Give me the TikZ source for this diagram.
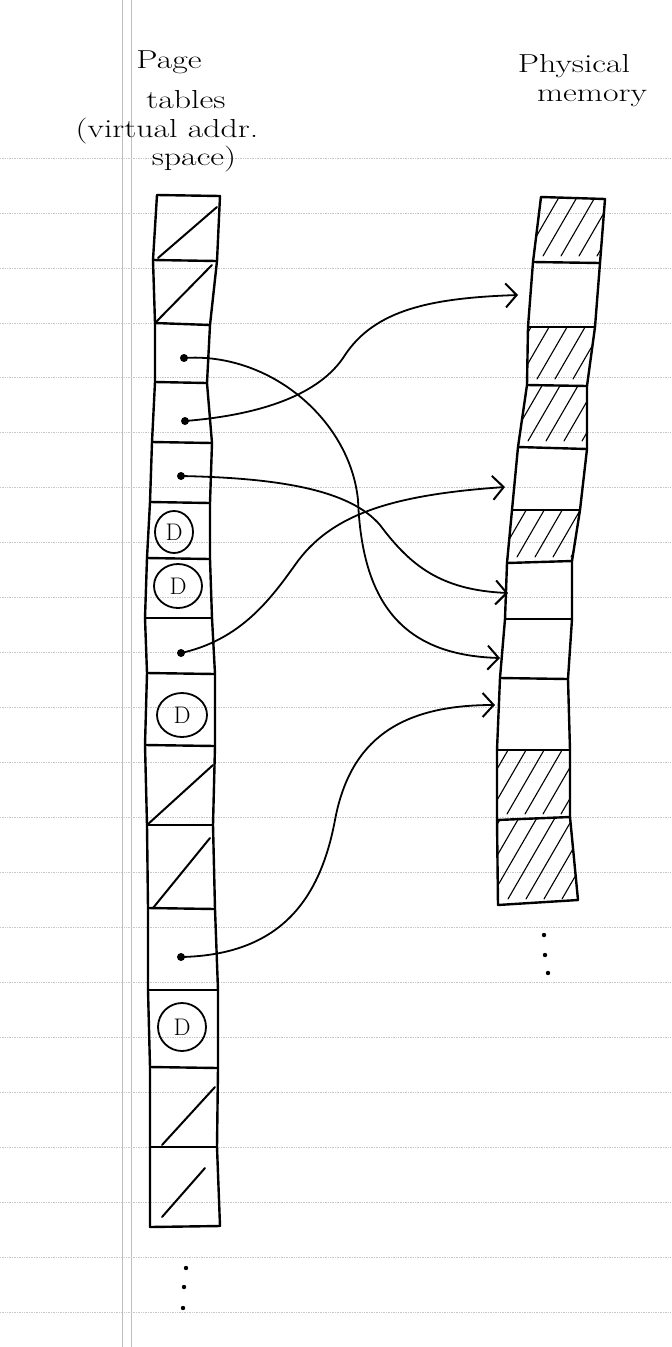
\documentclass[tikz,border=0pt]{standalone}
\usetikzlibrary{arrows.meta}
\tikzset{
  x=1pt, y=-1pt,
  col/.style={line width=2.4pt, line cap=round, line join=round},
  slash/.style={line width=2pt, line cap=round},
  hatch/.style={line width=1.1pt, line cap=round},
  link/.style={line width=1.8pt, line cap=round, -{Straight Barb[length=11pt,width=24pt,line width=2pt]}},
  ruleh/.style={black!22, line width=0.7pt, densely dotted},
  rulev/.style={black!25, line width=0.6pt},
  title/.style={font=\fontsize{26}{30}\selectfont, inner sep=0pt, anchor=base, xscale=1.3},
  dlabel/.style={font=\fontsize{24}{28}\selectfont, inner sep=0pt},
  ring/.style={line width=1.8pt},
  dotmark/.style={fill=black},
}
\newcommand\hcell[4]{%
  \begin{scope}
    \clip (#1) -- (#2) -- (#3) -- (#4) -- cycle;
    \foreach \s in {-80,-62,...,110} {\draw[hatch] (#4) ++(\s,-6) -- ++(55,-95);}
  \end{scope}}
\begin{document}
\begin{tikzpicture}
\useasboundingbox (0,0) rectangle (672,1347);
\fill[white] (0,0) rectangle (672,1347);
% ruled paper
\foreach \k in {0,...,21} {\draw[ruleh] (0,158+54.95*\k) -- (672,158+54.95*\k);}
\draw[rulev] (122,0) -- (122,1347);
\draw[rulev] (131,0) -- (131,1347);

% titles
\node[title] (pt1) at (169,68) {Page};
\node[title] (pt2) at (186,108) {tables};
\node[title] (pt3) at (167,137) {(virtual addr.};
\node[title] (pt4) at (194,165) {space)};
\node[title] (pm1) at (574,72) {Physical};
\node[title] (pm2) at (592,101) {memory};

% left column (page table)
\foreach \i/\lx/\ly/\rx/\ry in {1/157/195/220/196, 2/153/260/217/261, 3/155/323/210/325,
  4/155/382/207/383, 5/152/442/212/443, 6/150/502/210/503, 7/147/558/210/559,
  8/145/618/212/618, 9/147/673/215/674, 10/145/745/215/746, 11/147/825/213/825,
  12/148/908/215/909, 13/148/990/218/990, 14/150/1067/218/1068, 15/150/1147/217/1147,
  16/150/1227/220/1226}
  {\coordinate (L\i) at (\lx,\ly); \coordinate (R\i) at (\rx,\ry);
   \draw[col] (L\i) -- (R\i);}
\draw[col] (L1) \foreach \i in {2,...,16} {-- (L\i)};
\draw[col] (R1) \foreach \i in {2,...,16} {-- (R\i)};

% invalid entries
\draw[slash] (158,258) -- (217,207);
\draw[slash] (155,323) -- (212,265);
\draw[slash] (147,825) -- (213,765);
\draw[slash] (153,908) -- (210,838);
\draw[slash] (162,1145) -- (215,1087);
\draw[slash] (162,1217) -- (205,1168);

% on-disk entries
\node[dlabel] (d6) at (174,532) {D};
\draw[ring] (d6.center) ellipse [x radius=19pt, y radius=21pt];
\node[dlabel] (d7) at (178,586) {D};
\draw[ring] (d7.center) ellipse [x radius=24pt, y radius=22pt];
\node[dlabel] (d9) at (182,715) {D};
\draw[ring] (d9.center) ellipse [x radius=25pt, y radius=22pt];
\node[dlabel] (d13) at (182,1027) {D};
\draw[ring] (d13.center) ellipse [x radius=24pt, y radius=24pt];

% right column (physical memory)
\foreach \i/\lx/\ly/\rx/\ry in {1/541/197/605/199, 2/533/262/600/263, 3/528/327/595/327,
  4/527/385/587/386, 5/518/447/587/449, 6/512/510/580/510, 7/507/563/572/561,
  8/505/619/572/619, 9/500/678/568/679, 10/497/750/570/750, 11/497/820/570/817,
  12/498/905/578/900}
  {\coordinate (M\i) at (\lx,\ly); \coordinate (N\i) at (\rx,\ry);}
\hcell{M1}{N1}{N2}{M2}
\hcell{M3}{N3}{N4}{M4}
\hcell{M4}{N4}{N5}{M5}
\hcell{M6}{N6}{N7}{M7}
\hcell{M10}{N10}{N11}{M11}
\hcell{M11}{N11}{N12}{M12}
\foreach \i in {1,...,12} {\draw[col] (M\i) -- (N\i);}
\draw[col] (M1) \foreach \i in {2,...,12} {-- (M\i)};
\draw[col] (N1) \foreach \i in {2,...,12} {-- (N\i)};

% valid entries (dots) and frame targets
\coordinate (p3) at (184,358);
\coordinate (p4) at (185,421);
\coordinate (p5) at (181,476);
\coordinate (p8) at (181,653);
\coordinate (p12) at (181,957);
\foreach \p in {p3,p4,p5,p8,p12} {\fill[dotmark] (\p) circle (4);}
\coordinate (t2) at (518,295);
\coordinate (t5) at (505,487);
\coordinate (t7) at (508,593);
\coordinate (t8) at (500,658);
\coordinate (t9) at (495,705);

\draw[link] (p4) .. controls (260,415) and (320,395) .. (345,355)
                 .. controls (375,310) and (430,298) .. (t2);
\draw[link] (p3) .. controls (270,352) and (350,420) .. (358,500)
                 .. controls (362,600) and (400,655) .. (t8);
\draw[link] (p5) .. controls (280,478) and (350,490) .. (380,525)
                 .. controls (410,565) and (440,590) .. (t7);
\draw[link] (p8) .. controls (240,640) and (270,600) .. (295,565)
                 .. controls (330,515) and (390,495) .. (t5);
\draw[link] (p12) .. controls (280,955) and (320,900) .. (335,820)
                  .. controls (350,740) and (400,705) .. (t9);

% continuation dots
\foreach \x/\y in {544/935, 545/955, 548/973, 186/1268, 184/1287, 183/1308}
  {\fill (\x,\y) circle (2.2);}
\end{tikzpicture}
\end{document}
